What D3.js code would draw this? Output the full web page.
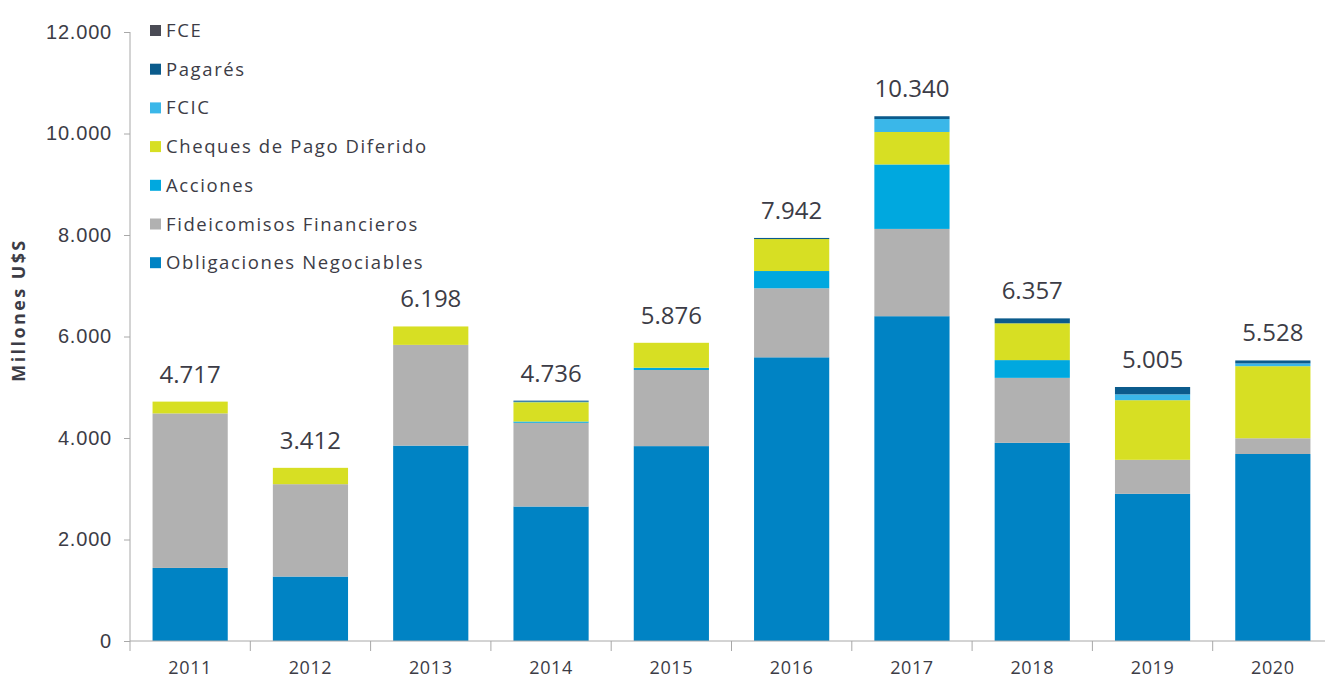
<!DOCTYPE html>
<html>
<head>
<meta charset="utf-8">
<style>
body { margin: 0; background: #ffffff; }
svg { display: block; font-family: "Open Sans", sans-serif; }
.axis text { fill: #3c3c46; }
.axis path, .axis line { stroke: #a8a8a8; }
</style>
</head>
<body>
<svg id="chart" width="1325" height="680"></svg>
<script src="https://d3js.org/d3.v7.min.js"></script>
<script>

var years = ["2011", "2012", "2013", "2014", "2015", "2016", "2017", "2018", "2019", "2020"];

// series, bottom to top
var seriesNames = ["Obligaciones Negociables", "Fideicomisos Financieros", "Acciones",
  "Cheques de Pago Diferido", "FCIC", "Pagarés", "FCE"];
var seriesColors = ["#0083c4", "#b1b1b1", "#00a8df", "#d7df23", "#3ab7e9", "#0b5b8c", "#4a4b55"];

var obligaciones = [1440, 1270, 3850, 2650, 3840, 5590, 6400, 3905, 2900, 3685];
var fideicomisos = [3045, 1820, 1985, 1650, 1500, 1360, 1720, 1280, 670, 310];
var acciones     = [0, 0, 0, 25, 45, 340, 1270, 350, 0, 0];
var cheques      = [232, 322, 363, 380, 491, 630, 640, 725, 1175, 1420];
var fcic         = [0, 0, 0, 10, 0, 0, 255, 0, 115, 55];
var pagares      = [0, 0, 0, 21, 0, 22, 55, 97, 145, 58];
var fce          = [0, 0, 0, 0, 0, 0, 0, 0, 0, 0];

var totals = [4717, 3412, 6198, 4736, 5876, 7942, 10340, 6357, 5005, 5528];
var yTicks = [0, 2000, 4000, 6000, 8000, 10000, 12000];

var seriesValues = [obligaciones, fideicomisos, acciones, cheques, fcic, pagares, fce];

var rows = years.map(function(y, i) {
  var r = { year: y, total: totals[i] };
  seriesNames.forEach(function(s, j) { r[s] = seriesValues[j][i]; });
  return r;
});

var locale = d3.formatLocale({ decimal: ",", thousands: ".", grouping: [3], currency: ["$", ""] });
var fmt = locale.format(",d");

var svg = d3.select("#chart"),
  margin = { top: 32, left: 130 },
  bandW = 120.3,
  width = bandW * years.length,
  height = 609;

var x = d3.scaleBand().domain(years).range([0, width]).paddingInner(0.375).paddingOuter(0.1875);
var xLines = d3.scaleBand().domain(years).range([0, width]);
var y = d3.scaleLinear().domain([0, 12000]).range([height, 0]);
var color = d3.scaleOrdinal().domain(seriesNames).range(seriesColors);

var g = svg.append("g").attr("transform", "translate(" + margin.left + "," + margin.top + ")");

var stack = d3.stack().keys(seriesNames)(rows);

g.selectAll(".serie")
  .data(stack).enter()
  .append("g")
  .attr("class", "serie")
  .attr("fill", function(d) { return color(d.key); })
  .selectAll("rect")
  .data(function(d) { return d; }).enter()
  .append("rect")
  .attr("x", function(d) { return x(d.data.year); })
  .attr("width", x.bandwidth())
  .attr("y", function(d) { return y(d[1]); })
  .attr("height", function(d) { return y(d[0]) - y(d[1]); });

// y axis
var yAxis = g.append("g")
  .attr("class", "axis")
  .call(d3.axisLeft(y).tickValues(yTicks).tickSize(6).tickPadding(12).tickFormat(fmt));
yAxis.selectAll("text").style("font-size", "20px").style("letter-spacing", "0.8px");
yAxis.select(".domain").attr("d", "M0," + height + "V0");

// x axis with ticks at band edges
var xAxis = g.append("g")
  .attr("class", "axis")
  .attr("transform", "translate(0," + height + ")");
xAxis.append("line").attr("x1", 0).attr("x2", width).attr("stroke", "#a8a8a8");
xAxis.selectAll(".edge")
  .data(years).enter()
  .append("line")
  .attr("class", "edge")
  .attr("x1", function(d) { return xLines(d); })
  .attr("x2", function(d) { return xLines(d); })
  .attr("y1", 0).attr("y2", 10)
  .attr("stroke", "#a8a8a8");
xAxis.selectAll("text")
  .data(years).enter()
  .append("text")
  .attr("x", function(d) { return x(d) + x.bandwidth() / 2; })
  .attr("y", 33)
  .attr("text-anchor", "middle")
  .attr("fill", "#3c3c46")
  .style("font-size", "18px")
  .style("letter-spacing", "0.6px")
  .text(function(d) { return d; });

// totals
g.selectAll(".total")
  .data(rows).enter()
  .append("text")
  .attr("class", "total")
  .attr("x", function(d) { return x(d.year) + x.bandwidth() / 2; })
  .attr("y", function(d) { return y(d.total) - 19; })
  .attr("text-anchor", "middle")
  .attr("fill", "#3c3c46")
  .style("font-size", "24px")
  .text(function(d) { return fmt(d.total); });

// y title
svg.append("text")
  .attr("transform", "translate(25,310) rotate(-90)")
  .attr("text-anchor", "middle")
  .attr("fill", "#3c3c46")
  .style("font-size", "18px")
  .style("font-weight", "bold")
  .style("letter-spacing", "2.4px")
  .text("Millones U$S");

// legend, top of stack first
var legend = svg.append("g").attr("transform", "translate(150,30)");
var legendItems = legend.selectAll(".item")
  .data(seriesNames.slice().reverse()).enter()
  .append("g")
  .attr("class", "item")
  .attr("transform", function(d, i) { return "translate(0," + (i * 38.7) + ")"; });
legendItems.append("rect")
  .attr("x", 0).attr("y", -5)
  .attr("width", 11).attr("height", 11)
  .attr("fill", function(d) { return color(d); });
legendItems.append("text")
  .attr("x", 16).attr("y", 7)
  .attr("fill", "#3c3c46")
  .style("font-size", "18.5px")
  .style("letter-spacing", "1.6px")
  .text(function(d) { return d; });

</script>
</body>
</html>
